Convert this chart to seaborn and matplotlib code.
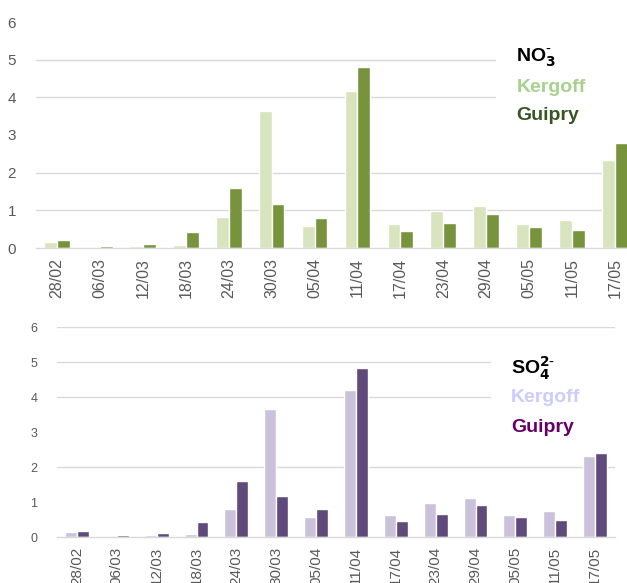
import numpy as np
import pandas as pd
import matplotlib
matplotlib.use('Agg')
import matplotlib.pyplot as plt
from matplotlib.patches import Rectangle
import seaborn as sns

# data
dates = ['28/02', '06/03', '12/03', '18/03', '24/03', '30/03', '05/04',
         '11/04', '17/04', '23/04', '29/04', '05/05', '11/05', '17/05']
no3_kergoff = [0.17, 0.03, 0.06, 0.09, 0.82, 3.63, 0.58, 4.17, 0.64, 0.98, 1.11, 0.64, 0.74, 2.33]
no3_guipry = [0.20, 0.06, 0.11, 0.43, 1.59, 1.17, 0.80, 4.80, 0.46, 0.66, 0.90, 0.56, 0.48, 2.78]
so4_kergoff = [0.15, 0.03, 0.06, 0.09, 0.81, 3.67, 0.58, 4.21, 0.64, 0.98, 1.12, 0.64, 0.75, 2.32]
so4_guipry = [0.19, 0.07, 0.12, 0.45, 1.61, 1.18, 0.81, 4.84, 0.47, 0.67, 0.92, 0.58, 0.49, 2.41]
sites = ['Kergoff', 'Guipry']
yticks = [0, 1, 2, 3, 4, 5, 6]

sns.set_theme(style='white')
plt.rcParams['font.family'] = ['Liberation Sans', 'DejaVu Sans']

def long_df(k, g):
    return pd.DataFrame({'date': dates * 2,
                         'site': ['Kergoff'] * len(dates) + ['Guipry'] * len(dates),
                         'val': k + g})

fig = plt.figure(figsize=(6.27, 5.83), dpi=100)
# top axes runs past the right edge like the cropped original
ax1 = fig.add_axes([35.5 / 627, 335 / 583, 601 / 627, 226 / 583])
ax2 = fig.add_axes([57 / 627, 45.7 / 583, 558 / 627, 210 / 583])

panels = [
    (ax1, long_df(no3_kergoff, no3_guipry), ['#d7e4bd', '#77933c'],
     r'NO$_\mathbf{3}^{\text{-}}$', ['#a9d18e', '#375623'], [1, 2, 4, 5], 11, 11.5,
     0.80, [5.04, 4.27, 3.53], 0.766, 3.1),
    (ax2, long_df(so4_kergoff, so4_guipry), ['#ccc1da', '#604a7b'],
     r'SO$_\mathbf{4}^{\mathbf{2}\text{-}}$', ['#ccccff', '#660066'], [2, 4, 5, 6], 9, 11,
     0.814, [4.84, 3.98, 3.15], 0.778, 2.7),
]

for ax, df, pal, title, tcols, grid_on, yfs, xfs, tx, tys, boxx, boxy in panels:
    sns.barplot(data=df, x='date', y='val', hue='site', hue_order=sites,
                palette=pal, width=0.6, gap=0, saturation=1, ax=ax, legend=False)
    ax.set_xlim(-0.5, len(dates) - 0.5)
    ax.set_ylim(0, 6)
    ax.set_yticks(yticks)
    ax.set_xlabel('')
    ax.set_ylabel('')
    ax.set_axisbelow(True)
    ax.yaxis.grid(True, color='#d9d9d9', linewidth=1.0)
    for t, gl in zip(yticks, ax.yaxis.get_gridlines()):
        gl.set_visible(t in grid_on)
    for s in ['top', 'right', 'left']:
        ax.spines[s].set_visible(False)
    ax.spines['bottom'].set_color('#d9d9d9')
    ax.spines['bottom'].set_linewidth(1.0)
    ax.tick_params(axis='both', length=0, colors='#595959')
    ax.tick_params(axis='y', labelsize=yfs, pad=14)
    ax.tick_params(axis='x', labelsize=xfs, rotation=90, pad=7)
    ax.patch.set_alpha(0)
    # white box behind the legend text
    ax.add_patch(Rectangle((boxx, boxy), 1.2 - boxx, 5.5 - boxy,
                           transform=ax.get_yaxis_transform(), facecolor='white',
                           edgecolor='none', zorder=1.5, clip_on=False))
    ax.text(tx, tys[0], title, transform=ax.get_yaxis_transform(), color='black',
            fontsize=14, fontweight='bold', ha='left', va='center', zorder=3)
    for lab, c, yy in zip(sites, tcols, tys[1:]):
        ax.text(tx, yy, lab, transform=ax.get_yaxis_transform(), color=c,
                fontsize=14, fontweight='bold', ha='left', va='center', zorder=3)

fig.savefig('out.png', dpi=100)
